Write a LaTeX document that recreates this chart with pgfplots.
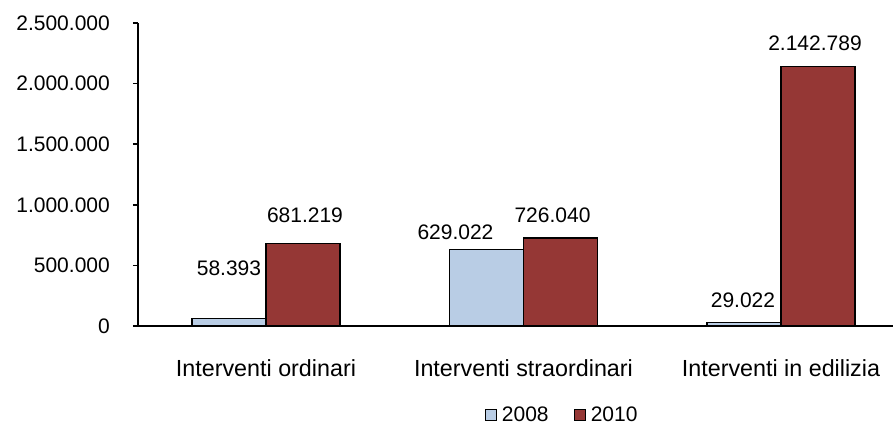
\documentclass[border=0pt]{standalone}
\usepackage{pgfplots}
\pgfplotsset{compat=1.18}
\usepackage{pgfplotstable}
\usepackage{fontspec}
\setmainfont{Liberation Sans}
\definecolor{c2008}{HTML}{B9CDE5}
\definecolor{c2010}{HTML}{953735}
\pgfplotstableread{
x y dx dy lab
0 58393 0 51 58.393
1 629022 -31 17 629.022
2 29022 -1 22 29.022
}\tA
\pgfplotstableread{
x y dx dy lab
0 681219 2 28 681.219
1 726040 -8 23 726.040
2 2142789 -3 23 2.142.789
}\tB
\begin{document}
\fontsize{21}{25}\selectfont
\begin{tikzpicture}
\begin{axis}[
  at={(138pt,104pt)}, anchor=south west,
  scale only axis, width=755pt, height=303pt,
  ybar=0pt, bar width=74pt,
  xmin=-0.497, xmax=2.435,
  ymin=0, ymax=2500000,
  ytick={0,500000,1000000,1500000,2000000,2500000},
  yticklabels={0,500.000,1.000.000,1.500.000,2.000.000,2.500.000},
  scaled y ticks=false,
  xtick={0,1,2},
  xticklabels={Interventi ordinari,Interventi straordinari,Interventi in edilizia},
  axis x line*=bottom, axis y line*=left,
  axis line style={-},
  x axis line style={line width=2.5pt},
  y axis line style={line width=2pt},
  tick align=outside,
  ytick pos=left,
  xtick style={draw=none},
  ytick style={line width=1.5pt, black},
  major tick length=5pt,
  yticklabel style={anchor=east, inner sep=0pt, xshift=-23pt},
  xticklabel style={anchor=base, inner sep=0pt, yshift=-46pt, font=\fontsize{23.3}{28}\selectfont},
  point meta=explicit symbolic,
  nodes near coords,
  visualization depends on={\thisrow{dx} \as \dx},
  visualization depends on={\thisrow{dy} \as \dy},
  every node near coord/.append style={anchor=center, inner sep=0pt, xshift=\dx pt, yshift=\dy pt, black},
  legend columns=2,
  legend style={draw=none, fill=none, inner sep=0pt, at={(0.459,-0.295)}, anchor=west,
    nodes={inner sep=0pt, anchor=west},
    /tikz/every even column/.append style={column sep=25pt}},
  legend image code/.code={\draw[#1,draw=black,line width=1.2pt] (0pt,-5.5pt) rectangle (11pt,5.5pt); \path (16pt,0pt);},
]
\addplot[fill=c2008, draw=black, line width=1.1pt] table[x=x,y=y,meta=lab] {\tA};
\addplot[fill=c2010, draw=black, line width=1.1pt] table[x=x,y=y,meta=lab] {\tB};
\legend{2008,2010}
\end{axis}
\pgfresetboundingbox
\path[use as bounding box] (0,0) rectangle (893pt,430pt);
\end{tikzpicture}
\end{document}
